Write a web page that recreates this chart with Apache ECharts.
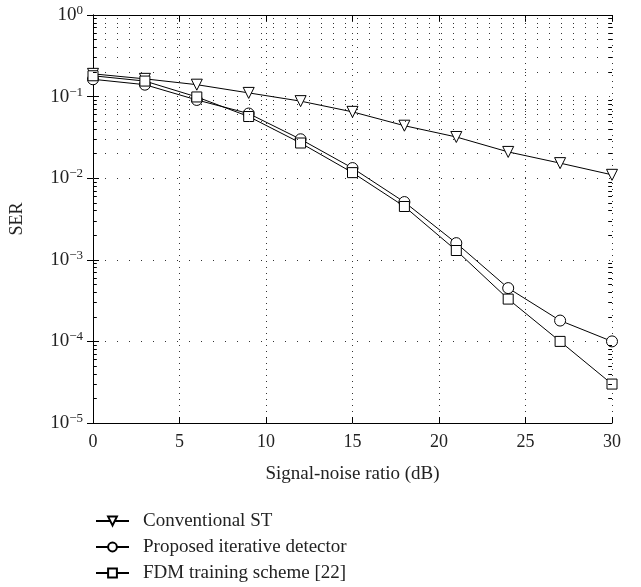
<!DOCTYPE html>
<html>
<head>
<meta charset="utf-8">
<script src="https://cdn.jsdelivr.net/npm/echarts@6/dist/echarts.min.js"></script>
<style>html,body{margin:0;padding:0;background:#fff}#c{width:641px;height:587px}</style>
</head>
<body>
<div id="c"></div>
<script>
var snr = [0, 3, 6, 9, 12, 15, 18, 21, 24, 27, 30];
var conventionalST = [0.19, 0.165, 0.14, 0.111, 0.088, 0.065, 0.044, 0.032, 0.021, 0.0153, 0.011];
var proposedDetector = [0.163, 0.14, 0.091, 0.062, 0.030, 0.0133, 0.0051, 0.0016, 0.00045, 0.00018, 0.0001];
var fdmTraining = [0.18, 0.155, 0.099, 0.057, 0.027, 0.0117, 0.0045, 0.0013, 0.00033, 0.0001, 0.00003];
var seriesNames = ['Conventional ST', 'Proposed iterative detector', 'FDM training scheme [22]'];
var xTicks = [0, 5, 10, 15, 20, 25, 30];

var FONT = '"Liberation Serif", "DejaVu Serif", serif';

function pairs(ys) { return snr.map(function (x, i) { return [x, ys[i]]; }); }

// minor log grid lines and minor tick marks
var minorVals = [];
for (var e = -5; e < 0; e++) for (var m = 2; m <= 9; m++) minorVals.push(m * Math.pow(10, e));
var gridLines = minorVals.map(function (v) { return { yAxis: v }; });
var tickMarks = [];
minorVals.forEach(function (v) {
  tickMarks.push([{ coord: [0, v] }, { coord: [0.22, v] }]);
  tickMarks.push([{ coord: [29.78, v] }, { coord: [30, v] }]);
});

var baseLine = { color: '#000', width: 1 };
var itemSty = { color: '#fff', borderColor: '#000', borderWidth: 1 };

var chart = echarts.init(document.getElementById('c'), null, { renderer: 'canvas' });
chart.setOption({
  animation: false,
  backgroundColor: '#fff',
  textStyle: { fontFamily: FONT, color: '#222' },
  grid: { left: 93, right: 29, top: 15, bottom: 164 },
  legend: {
    orient: 'vertical', left: 95, top: 511, height: 80, padding: 0,
    itemWidth: 33, itemHeight: 11, itemGap: 6,
    textStyle: { fontFamily: FONT, fontSize: 19, color: '#222', lineHeight: 20, padding: [0, 0, 0, 9] },
    data: seriesNames
  },
  xAxis: [{
    type: 'value', min: 0, max: 30, interval: 5,
    name: 'Signal-noise ratio (dB)', nameLocation: 'middle', nameGap: 42,
    nameTextStyle: { fontFamily: FONT, fontSize: 19, color: '#222' },
    axisLine: { lineStyle: { color: '#000', width: 1 } },
    axisTick: { inside: true, length: 6, lineStyle: { color: '#000' } },
    axisLabel: { fontFamily: FONT, fontSize: 18, color: '#222', margin: 10 },
    splitLine: { show: true, lineStyle: { color: '#333', type: [1, 5], width: 1 } }
  }, {
    type: 'value', min: 0, max: 30, interval: 5, position: 'top',
    axisLine: { show: true, lineStyle: { color: '#000', width: 1 } },
    axisTick: { inside: true, length: 6, lineStyle: { color: '#000' } },
    axisLabel: { show: false }, splitLine: { show: false }
  }],
  yAxis: [{
    type: 'log', logBase: 10, min: 1e-5, max: 1,
    name: 'SER', nameLocation: 'middle', nameGap: 67,
    nameTextStyle: { fontFamily: FONT, fontSize: 18, color: '#222' },
    axisLine: { show: true, lineStyle: { color: '#000', width: 1 } },
    axisTick: { inside: true, length: 6, lineStyle: { color: '#000' } },
    axisLabel: {
      margin: 10,
      formatter: function (v) {
        var ex = Math.round(Math.log10(v));
        return '{a|10}{b|' + (ex < 0 ? '\u2212' + (-ex) : ex) + '}';
      },
      rich: {
        a: { fontFamily: FONT, fontSize: 19, color: '#222', lineHeight: 22 },
        b: { fontFamily: FONT, fontSize: 13, color: '#222', lineHeight: 22, verticalAlign: 'top', padding: [0, 0, 9, 0] }
      }
    },
    splitLine: { show: true, lineStyle: { color: '#333', type: [1, 11], width: 1 } }
  }, {
    type: 'log', logBase: 10, min: 1e-5, max: 1, position: 'right',
    axisLine: { show: true, lineStyle: { color: '#000', width: 1 } },
    axisTick: { inside: true, length: 6, lineStyle: { color: '#000' } },
    axisLabel: { show: false }, splitLine: { show: false }
  }],
  series: [{
    name: seriesNames[0], type: 'line', data: pairs(conventionalST),
    symbol: 'triangle', symbolRotate: 180, symbolSize: 11,
    lineStyle: baseLine, itemStyle: itemSty, z: 3,
    markLine: {
      silent: true, symbol: 'none', label: { show: false }, animation: false,
      lineStyle: { color: '#333', type: [1, 11], width: 1 },
      emphasis: { disabled: true },
      data: gridLines
    }
  }, {
    name: seriesNames[1], type: 'line', data: pairs(proposedDetector),
    symbol: 'circle', symbolSize: 11,
    lineStyle: baseLine, itemStyle: itemSty, z: 3
  }, {
    name: seriesNames[2], type: 'line', data: pairs(fdmTraining),
    symbol: 'rect', symbolSize: 10,
    lineStyle: baseLine, itemStyle: itemSty, z: 4
  }, {
    name: 'minor-ticks', type: 'line', data: [], silent: true,
    markLine: {
      silent: true, symbol: 'none', label: { show: false }, animation: false,
      lineStyle: { color: '#000', type: 'solid', width: 1 },
      emphasis: { disabled: true },
      data: tickMarks
    }
  }]
});
</script>
</body>
</html>
